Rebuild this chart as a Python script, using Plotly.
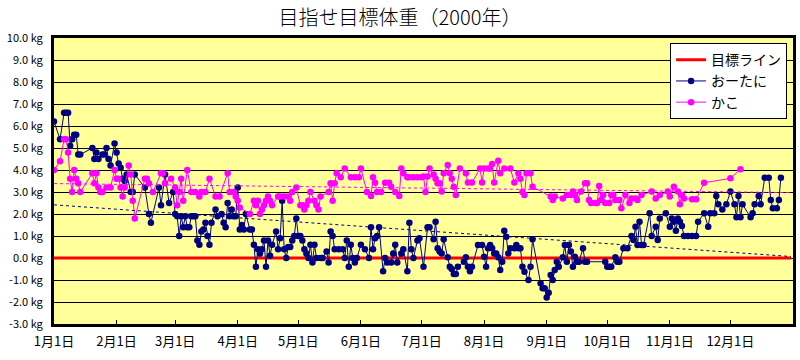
import numpy as np
import pandas as pd
import plotly.graph_objects as go

# ---------------- data ----------------
YEAR_START = "2000-01-01"
AXIS_END = "2001-01-01"

month_tick_dates = ["2000-01-01", "2000-02-01", "2000-03-01", "2000-04-01",
                    "2000-05-01", "2000-06-01", "2000-07-01", "2000-08-01",
                    "2000-09-01", "2000-10-01", "2000-11-01", "2000-12-01"]
month_tick_labels = ["1月1日", "2月1日", "3月1日", "4月1日", "5月1日", "6月1日",
                     "7月1日", "8月1日", "9月1日", "10月1日", "11月1日", "12月1日"]

y_tick_values = [10, 9, 8, 7, 6, 5, 4, 3, 2, 1, 0, -1, -2, -3]

# target line (目標ライン)
target_dates = ["2000-01-01", "2000-12-31"]
target_kg = [0.0, 0.0]

# おーたに : day offset from Jan 1 and kg above target
otani_days = [0, 3, 5, 6, 7, 8, 9, 10, 11, 12, 13, 19, 20, 21, 22, 24, 25, 26, 27, 28,
              30, 31, 32, 33, 34, 35, 36, 38, 39, 40, 45, 47, 48, 52, 53, 55, 57, 59, 60, 61,
              62, 63, 64, 65, 66, 67, 68, 69, 70, 71, 72, 73, 74, 75, 76, 77, 78, 80, 81, 83,
              84, 85, 86, 87, 88, 89, 90, 91, 92, 93, 94, 95, 97, 98, 99, 100, 101, 102, 103, 104,
              105, 106, 107, 108, 110, 111, 112, 113, 114, 115, 116, 117, 118, 119, 120, 121, 122, 123, 124, 125,
              126, 127, 128, 129, 130, 132, 133, 135, 136, 137, 138, 139, 141, 143, 144, 145, 146, 147, 148, 149,
              150, 152, 154, 156, 157, 158, 159, 160, 161, 163, 164, 165, 167, 168, 169, 170, 172, 173, 175, 176,
              177, 178, 180, 181, 183, 185, 186, 188, 189, 190, 191, 192, 193, 195, 196, 197, 198, 199, 200, 203,
              204, 205, 206, 207, 210, 212, 213, 214, 215, 216, 217, 218, 219, 220, 221, 222, 223, 224, 225, 226,
              228, 229, 230, 231, 232, 233, 235, 236, 237, 241, 242, 243, 244, 245, 246, 247, 248, 249, 250, 252,
              253, 254, 255, 256, 257, 258, 259, 260, 262, 263, 264, 273, 274, 275, 276, 278, 279, 280, 282, 284,
              286, 287, 288, 289, 290, 291, 292, 295, 296, 298, 299, 300, 303, 305, 306, 307, 308, 309, 310, 311,
              312, 314, 316, 318, 319, 322, 324, 325, 327, 328, 329, 331, 333, 335, 337, 338, 339, 340, 341, 345,
              346, 347, 349, 350, 352, 354, 355, 356, 358, 359, 360]
otani_kg = [6.2, 5.4, 6.6, 6.6, 6.6, 5.1, 5.4, 5.6, 5.6, 4.7, 4.7, 5.0, 4.5, 4.8, 4.5, 4.7, 4.7, 5.0, 4.5, 4.2,
            5.2, 4.8, 4.3, 4.1, 3.6, 3.5, 3.8, 3.0, 3.0, 3.8, 3.2, 2.0, 1.6, 3.2, 2.4, 3.8, 2.5, 3.0, 2.0, 1.9,
            1.0, 1.9, 1.4, 1.9, 1.4, 1.4, 1.9, 1.9, 1.9, 0.8, 0.6, 1.2, 1.3, 1.6, 1.0, 0.6, 1.6, 2.2, 1.9, 2.0,
            1.6, 1.4, 2.5, 1.9, 2.2, 1.9, 1.9, 3.2, 1.3, 1.5, 1.3, 2.0, 1.3, 1.3, 0.6, -0.4, 0.4, 0.2, 0.4, 0.8,
            -0.4, 0.8, 0.1, 0.6, 1.2, 0.4, 0.9, 2.6, 0.4, 0.0, 0.5, 0.5, 0.8, 1.0, 1.8, 1.0, 1.0, 0.8, 0.4, 0.2,
            0.0, 0.6, -0.2, 0.6, 0.0, 0.0, 0.0, 0.3, -0.2, 1.2, 1.0, 0.4, 0.4, 0.4, 0.0, 0.8, -0.4, 0.6, 0.0, -0.2,
            0.0, 0.6, 0.4, 0.0, 1.4, 0.4, 0.9, 1.0, 1.4, -0.6, 0.0, -0.2, -0.2, 0.2, 0.6, -0.2, 0.2, 0.4, -0.6, 1.6,
            0.4, 0.0, 0.8, 0.9, -0.4, 1.4, 1.4, 0.85, 1.65, 0.44, 0.29, 0.21, 0.85, 0.03, -0.4, -0.5, -0.73, -0.73, -0.4, -0.17,
            0.03, -0.4, -0.6, -0.4, 0.59, 0.59, 0.06, -0.4, 0.44, 0.59, 0.44, 0.21, 0.21, 0.03, -0.55, -0.17, 1.24, 0.97, 0.21, 0.44,
            0.44, 0.59, 0.44, 0.44, -0.4, -0.62, -1.0, -0.4, 0.85, -1.15, -1.38, -1.38, -1.8, -1.58, -0.77, -1.0, -0.55, -0.17, -0.4, 0.03,
            0.59, -0.17, 0.59, 0.3, -0.4, 0.06, -0.17, -0.17, 0.44, -0.17, -0.17, -0.17, -0.4, -0.4, -0.4, 0.03, -0.17, -0.17, 0.44, 0.44,
            1.0, 0.82, 1.42, 0.59, 1.65, 0.59, 0.59, 2.03, 1.0, 1.42, 0.82, 1.8, 2.03, 1.42, 1.8, 1.65, 1.24, 1.8, 1.65, 1.45,
            1.0, 1.0, 1.0, 1.0, 1.65, 2.03, 1.42, 2.03, 2.03, 2.82, 2.44, 2.21, 2.44, 3.02, 2.44, 1.85, 2.82, 1.85, 2.44, 1.85,
            2.03, 2.44, 2.82, 2.44, 3.65, 3.65, 2.64, 2.26, 2.26, 2.64, 3.65]

# かこ
kako_days = [0, 3, 5, 6, 7, 8, 9, 10, 11, 12, 13, 19, 20, 21, 22, 23, 24, 26, 28, 30,
             31, 32, 33, 34, 35, 37, 38, 39, 40, 45, 46, 47, 49, 53, 54, 55, 58, 60, 61, 62,
             63, 64, 66, 68, 70, 72, 73, 75, 77, 80, 82, 86, 87, 89, 90, 91, 92, 97, 99, 100,
             101, 102, 103, 104, 105, 106, 107, 108, 111, 112, 114, 116, 117, 118, 120, 122, 123, 124, 125, 126,
             127, 129, 130, 131, 132, 136, 137, 138, 139, 140, 142, 144, 147, 149, 151, 152, 155, 157, 158, 159,
             160, 162, 164, 166, 167, 169, 171, 172, 173, 175, 176, 178, 180, 182, 183, 184, 185, 186, 188, 189,
             190, 191, 192, 193, 195, 196, 197, 198, 199, 201, 204, 205, 207, 211, 212, 213, 215, 216, 217, 218,
             220, 221, 223, 226, 228, 230, 231, 232, 233, 234, 236, 237, 246, 247, 248, 252, 254, 256, 257, 258,
             259, 261, 263, 264, 265, 266, 268, 269, 270, 271, 272, 273, 275, 276, 277, 278, 280, 281, 283, 285,
             286, 288, 289, 291, 296, 298, 300, 304, 305, 307, 309, 310, 311, 312, 316, 318, 322, 335, 340]
kako_kg = [4.0, 4.4, 5.4, 5.4, 4.8, 3.6, 3.0, 4.0, 3.6, 3.4, 3.0, 3.85, 3.4, 3.85, 3.2, 3.0, 3.0, 3.2, 3.2, 4.0,
           3.6, 3.6, 3.2, 2.8, 3.2, 4.2, 3.8, 2.6, 1.8, 3.6, 3.6, 3.4, 3.0, 3.85, 3.85, 3.4, 3.6, 3.2, 2.4, 3.0,
           3.6, 2.6, 4.0, 3.0, 3.0, 2.8, 3.0, 3.0, 3.6, 2.8, 2.8, 3.85, 3.0, 3.0, 2.8, 2.6, 2.3, 2.0, 2.6, 2.4,
           2.6, 2.0, 2.2, 2.4, 2.6, 2.8, 2.6, 2.4, 2.8, 2.8, 2.8, 2.8, 2.6, 3.0, 3.2, 2.4, 2.4, 2.2, 2.4, 2.6,
           3.0, 2.6, 2.4, 2.2, 2.8, 3.0, 3.4, 2.6, 3.4, 3.85, 3.67, 4.07, 3.67, 3.67, 3.67, 4.07, 3.0, 2.82, 3.67, 3.42,
           3.0, 3.0, 3.42, 3.42, 3.24, 3.0, 2.82, 4.07, 3.85, 3.67, 3.67, 3.67, 3.67, 3.67, 3.7, 3.0, 3.7, 4.07, 3.8, 3.6,
           3.4, 3.4, 3.02, 3.85, 4.23, 3.85, 3.6, 3.24, 2.86, 4.07, 3.85, 3.43, 3.43, 4.07, 3.43, 4.07, 4.07, 4.07, 4.27, 3.43,
           4.42, 3.85, 4.07, 4.07, 3.43, 3.85, 3.6, 3.0, 2.86, 3.85, 3.85, 3.24, 2.79, 2.64, 2.79, 2.71, 2.86, 2.86, 3.02, 2.86,
           2.64, 3.02, 3.4, 3.4, 2.64, 2.5, 2.5, 2.5, 3.27, 2.64, 2.86, 2.5, 2.5, 2.86, 2.86, 2.64, 2.64, 2.26, 2.86, 2.5,
           2.7, 2.7, 2.64, 2.86, 3.02, 2.71, 2.86, 3.02, 2.79, 3.24, 3.02, 2.44, 2.86, 2.7, 2.67, 2.67, 3.42, 3.62, 4.03]

# ---------------- build ----------------
base = pd.Timestamp(YEAR_START)


def to_dates(days):
    return base + pd.to_timedelta(np.asarray(days), unit="D")


def trend(days, kg):
    coef = np.polyfit(np.asarray(days, float), np.asarray(kg, float), 1)
    span = np.array([0.0, 365.0])
    return to_dates(span), np.polyval(coef, span)


NAVY = "#000080"
MAGENTA = "#FF00FF"
FONT = "Noto Sans CJK JP"

fig = go.Figure()

fig.add_trace(go.Scatter(x=pd.to_datetime(target_dates), y=target_kg, name="目標ライン",
                         mode="lines", line=dict(color="#FF0000", width=3)))
fig.add_trace(go.Scatter(x=to_dates(otani_days), y=otani_kg, name="おーたに",
                         mode="lines+markers", line=dict(color=NAVY, width=1),
                         marker=dict(color=NAVY, size=6.5)))
fig.add_trace(go.Scatter(x=to_dates(kako_days), y=kako_kg, name="かこ",
                         mode="lines+markers", line=dict(color=MAGENTA, width=1),
                         marker=dict(color=MAGENTA, size=6.5)))

tx, ty = trend(otani_days, otani_kg)
fig.add_trace(go.Scatter(x=tx, y=ty, mode="lines", showlegend=False, hoverinfo="skip",
                         line=dict(color=NAVY, width=1, dash="dot")))
tx, ty = trend(kako_days, kako_kg)
fig.add_trace(go.Scatter(x=tx, y=ty, mode="lines", showlegend=False, hoverinfo="skip",
                         line=dict(color=MAGENTA, width=1, dash="dot")))

fig.update_layout(
    width=800, height=360,
    margin=dict(l=54, r=4, t=38, b=36),
    paper_bgcolor="white",
    plot_bgcolor="#FFFF99",
    font=dict(family=FONT, color="black"),
    title=dict(text="目指せ目標体重（2000年）", x=0.5, xanchor="center",
               y=0.949, yanchor="middle",
               font=dict(size=20, family=FONT, color="black", weight=300)),
    showlegend=True,
    legend=dict(x=0.992, xanchor="right", y=0.982, yanchor="top",
                bgcolor="white", bordercolor="black", borderwidth=1,
                font=dict(size=14, family=FONT, color="black"),
                tracegroupgap=0, itemwidth=30),
)

fig.update_xaxes(
    type="date",
    range=[YEAR_START, AXIS_END],
    tickmode="array",
    tickvals=month_tick_dates,
    ticktext=month_tick_labels,
    ticks="inside", ticklen=4, tickcolor="black", tickwidth=1,
    tickfont=dict(size=13, family=FONT, color="black"),
    ticklabelstandoff=3,
    showgrid=False, zeroline=False,
    showline=True, linecolor="black", linewidth=3, mirror=True,
)
fig.update_yaxes(
    range=[-3, 10],
    tickmode="array",
    tickvals=y_tick_values,
    ticktext=[f"{v:.1f} kg" for v in y_tick_values],
    ticks="", tickfont=dict(size=11, family=FONT, color="black"),
    ticklabelstandoff=6,
    showgrid=True, gridcolor="black", gridwidth=1,
    zeroline=False,
    showline=True, linecolor="black", linewidth=3, mirror=True,
)

# remove the default 8px page margin so the 800x360 figure fills the window exactly
fig.write_html("out.html",
               config={"displayModeBar": False},
               post_script="document.body.style.margin='0';document.body.style.overflow='hidden';")
